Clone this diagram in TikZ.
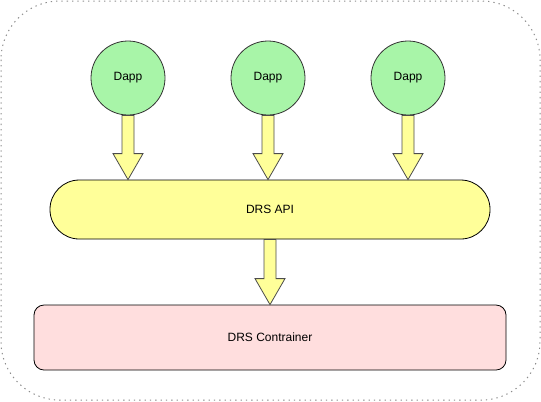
\documentclass[tikz,border=0pt]{standalone}
\usepackage{fontspec}
\setmainfont{Liberation Sans}
\usepackage{tikz}
\usetikzlibrary{calc}
\definecolor{dappgreen}{HTML}{A8F5A8}
\definecolor{apiyellow}{HTML}{FFFF99}
\definecolor{boxpink}{HTML}{FFDEDE}
\tikzset{frame/.style={draw=black!45,line width=0.75pt,dash pattern=on 1pt off 3pt,rounded corners=44pt},
    dapp/.style={circle,draw=black!80,line width=0.6pt,fill=dappgreen,minimum size=55.5pt,inner sep=0pt,font=\fontsize{9}{11}\selectfont},
    api/.style={rectangle,draw=black,line width=0.6pt,fill=apiyellow,minimum width=330pt,minimum height=44.25pt,rounded corners=22pt,font=\fontsize{9}{11}\selectfont},
    store/.style={rectangle,draw=black,line width=0.6pt,fill=boxpink,minimum width=354pt,minimum height=48.75pt,rounded corners=7.5pt,font=\fontsize{9}{11}\selectfont},
    fatarrow/.style={draw=black!70,line width=0.6pt,fill=apiyellow,line join=miter}}
% block arrow from the bottom of #1 down to the top of #2
\newcommand{\fatarrow}[2]{%
\draw [fatarrow] ($(#1.south)+(-6,0)$) -- ($(#1.south |- #2.north)+(-6,-26)$) -- ($(#1.south |- #2.north)+(-15,-26)$) -- (#1.south |- #2.north) -- ($(#1.south |- #2.north)+(15,-26)$) -- ($(#1.south |- #2.north)+(6,-26)$) -- ($(#1.south)+(6,0)$) -- cycle;}

\begin{document}
\begin{tikzpicture}[x=0.75pt,y=0.75pt,yscale=-1,xscale=1]
\useasboundingbox (0,0) rectangle (541,401);

%Shape: Rounded Rect [id:frame]
\draw [frame] (1,1) rectangle (540,400);

%Shape: Circle [id:dapps]
\node [dapp] (dapp1) at (128,78) {Dapp};
\node [dapp] (dapp2) at (268,78) {Dapp};
\node [dapp] (dapp3) at (408,78) {Dapp};

%Shape: Rounded Rect [id:api]
\node [api] (api) at (270,209.5) {DRS API};

%Shape: Rounded Rect [id:container]
\node [store] (container) at (270,337.5) {DRS Contrainer};

%Block Arrows
\fatarrow{dapp1}{api}
\fatarrow{dapp2}{api}
\fatarrow{dapp3}{api}
\fatarrow{api}{container}

\end{tikzpicture}
\end{document}
